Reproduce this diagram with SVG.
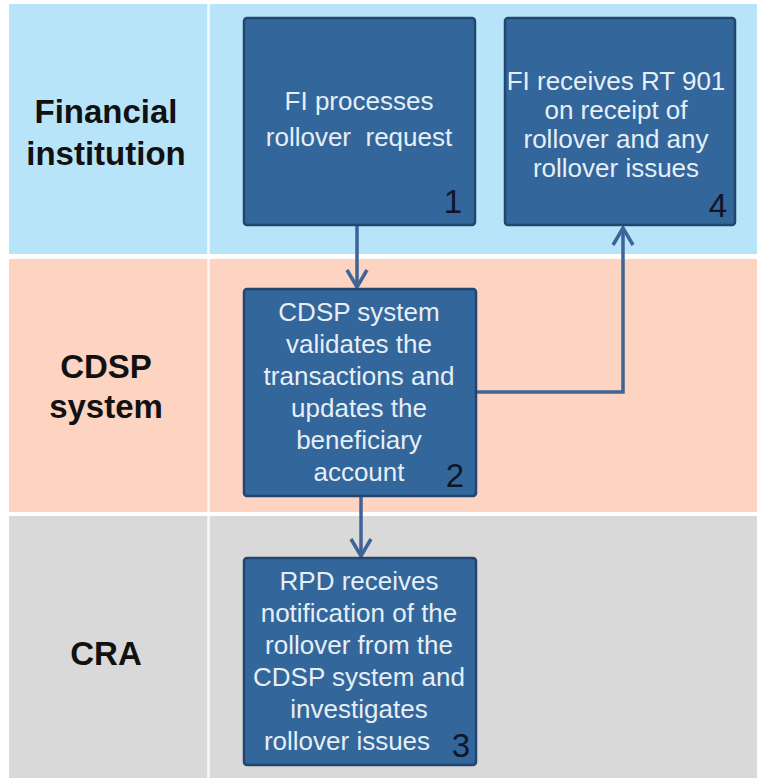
<svg xmlns="http://www.w3.org/2000/svg" width="757" height="778" viewBox="0 0 757 778">
<style>
.lane-label{font-family:"Liberation Sans",Arial,sans-serif;font-weight:bold;font-size:33px;fill:#111111;text-anchor:middle}
.box{fill:#33669a;stroke:#22466f;stroke-width:2.5}
.btxt{font-family:"Liberation Sans",Arial,sans-serif;font-size:26px;fill:#e6eef6;text-anchor:middle}
.num{font-family:"Liberation Sans",Arial,sans-serif;font-size:33px;fill:#0e1628;text-anchor:end}
.conn{fill:none;stroke:#3d6496;stroke-width:3.5}
</style>
<defs>
<marker id="chev" markerUnits="userSpaceOnUse" markerWidth="30" markerHeight="30" viewBox="-20 -15 24 30" refX="0" refY="0" orient="auto" overflow="visible">
<path d="M-17,-10 L0,0 L-17,10" fill="none" stroke="#3d6496" stroke-width="3.5" stroke-linejoin="miter"/>
</marker>
</defs>
<rect x="0" y="0" width="757" height="778" fill="#ffffff"/>
<g id="lanes">
<rect x="9" y="4" width="748" height="250" fill="#b7e4f9"/>
<rect x="9" y="259" width="748" height="253" fill="#fdd3c2"/>
<rect x="9" y="516" width="748" height="262" fill="#d9d9d9"/>
<line x1="208.5" y1="4" x2="208.5" y2="778" stroke="#ffffff" stroke-opacity="0.8" stroke-width="2.5"/>
</g>
<g id="lane-fi">
<text class="lane-label" x="106" y="123">Financial</text>
<text class="lane-label" x="106" y="165">institution</text>
</g>
<g id="lane-cdsp">
<text class="lane-label" x="106" y="378">CDSP</text>
<text class="lane-label" x="106" y="418">system</text>
</g>
<g id="lane-cra">
<text class="lane-label" x="106" y="665">CRA</text>
</g>
<g id="connectors">
<path class="conn" d="M357,225 V287" marker-end="url(#chev)"/>
<path class="conn" d="M361,496 V556" marker-end="url(#chev)"/>
<path class="conn" d="M476,392 H623 V228" marker-end="url(#chev)"/>
</g>
<g id="node1">
<rect class="box" x="244" y="18" width="231" height="207" rx="3"/>
<text class="btxt" x="359" y="110">FI processes</text>
<text class="btxt" x="359" y="146" xml:space="preserve">rollover  request</text>
<text class="num" x="462" y="213">1</text>
</g>
<g id="node4">
<rect class="box" x="505" y="18" width="230" height="207" rx="3"/>
<text class="btxt" x="616" y="90">FI receives RT 901</text>
<text class="btxt" x="616" y="119">on receipt of</text>
<text class="btxt" x="616" y="148">rollover and any</text>
<text class="btxt" x="616" y="177">rollover issues</text>
<text class="num" x="727" y="217">4</text>
</g>
<g id="node2">
<rect class="box" x="244" y="289" width="232" height="207" rx="3"/>
<text class="btxt" x="359" y="321">CDSP system</text>
<text class="btxt" x="359" y="353">validates the</text>
<text class="btxt" x="359" y="385">transactions and</text>
<text class="btxt" x="359" y="417">updates the</text>
<text class="btxt" x="359" y="449">beneficiary</text>
<text class="btxt" x="359" y="481">account</text>
<text class="num" x="464" y="487">2</text>
</g>
<g id="node3">
<rect class="box" x="244" y="558" width="232" height="207" rx="3"/>
<text class="btxt" x="359" y="590">RPD receives</text>
<text class="btxt" x="359" y="622">notification of the</text>
<text class="btxt" x="359" y="654">rollover from the</text>
<text class="btxt" x="359" y="686">CDSP system and</text>
<text class="btxt" x="359" y="718">investigates</text>
<text class="btxt" x="347" y="750">rollover issues</text>
<text class="num" x="470" y="757">3</text>
</g>
</svg>
